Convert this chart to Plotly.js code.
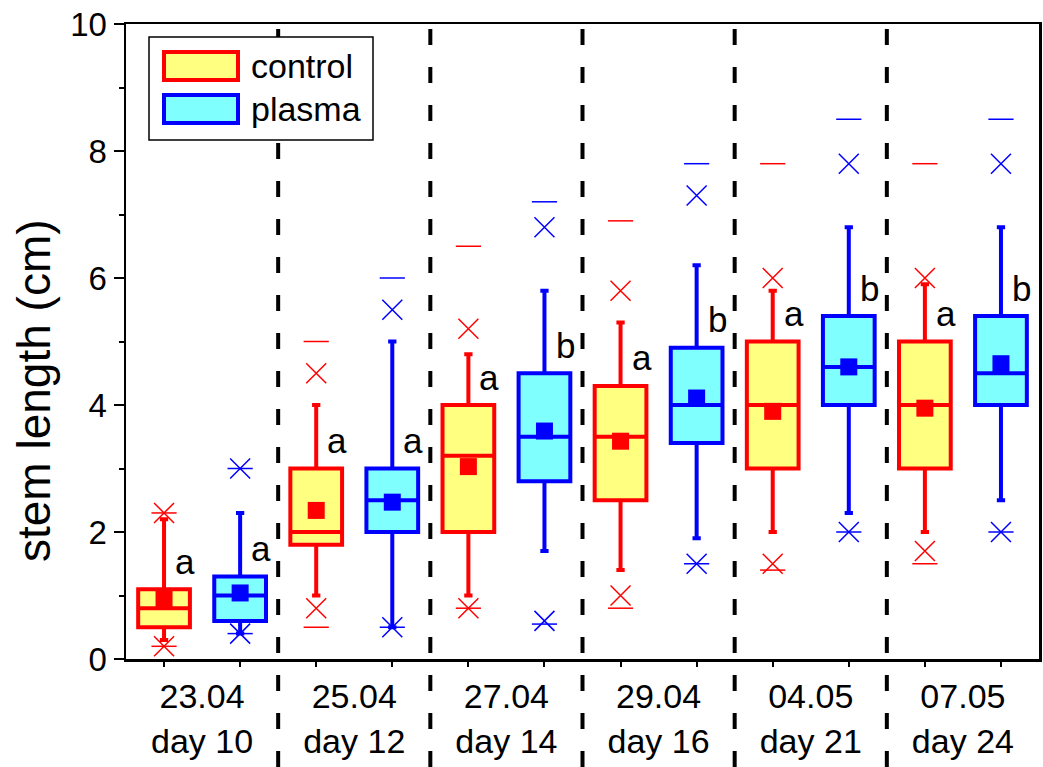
<!DOCTYPE html>
<html>
<head>
<meta charset="utf-8">
<script src="https://cdn.plot.ly/plotly-3.0.1.min.js"></script>
<style>html,body{margin:0;padding:0;background:#fff;}#chart{width:1043px;height:767px;}</style>
</head>
<body>
<div id="chart"></div>
<script>
// ---- data ----
var dates = ['23.04','25.04','27.04','29.04','04.05','07.05'];
var days = ['day 10','day 12','day 14','day 16','day 21','day 24'];

var controlQ1   = [0.5, 1.8, 2.0, 2.5, 3.0, 3.0];
var controlMed  = [0.8, 2.0, 3.2, 3.5, 4.0, 4.0];
var controlQ3   = [1.1, 3.0, 4.0, 4.3, 5.0, 5.0];
var controlLo   = [0.3, 1.0, 1.0, 1.4, 2.0, 2.0];
var controlHi   = [2.2, 4.0, 4.8, 5.3, 5.8, 5.9];
var controlMean = [0.95, 2.34, 3.03, 3.43, 3.9, 3.95];
var controlP1   = [0.2, 0.8, 0.8, 1.0, 1.5, 1.7];
var controlP99  = [2.3, 4.5, 5.2, 5.8, 6.0, 6.0];
var controlMin  = [0.2, 0.5, 0.8, 0.8, 1.4, 1.5];
var controlMax  = [2.3, 5.0, 6.5, 6.9, 7.8, 7.8];
var controlLetters = ['a','a','a','a','a','a'];

var plasmaQ1   = [0.6, 2.0, 2.8, 3.4, 4.0, 4.0];
var plasmaMed  = [1.0, 2.5, 3.5, 4.0, 4.6, 4.5];
var plasmaQ3   = [1.3, 3.0, 4.5, 4.9, 5.4, 5.4];
var plasmaLo   = [0.4, 0.5, 1.7, 1.9, 2.3, 2.5];
var plasmaHi   = [2.3, 5.0, 5.8, 6.2, 6.8, 6.8];
var plasmaMean = [1.04, 2.47, 3.59, 4.11, 4.6, 4.65];
var plasmaP1   = [0.4, 0.5, 0.6, 1.5, 2.0, 2.0];
var plasmaP99  = [3.0, 5.5, 6.8, 7.3, 7.8, 7.8];
var plasmaMin  = [0.4, 0.5, 0.55, 1.5, 2.0, 2.0];
var plasmaMax  = [3.0, 6.0, 7.2, 7.8, 8.5, 8.5];
var plasmaLetters = ['a','a','b','b','b','b'];

var seriesNames = ['control','plasma'];

// ---- styling ----
var FONT = 'Liberation Sans, Arial, sans-serif';
var RED = '#FF0000', BLUE = '#0000FF', YELLOW = '#FFFF80', CYAN = '#80FFFF';
var W = 1043, H = 767, ML = 126, MR = 4, MT = 24, MB = 108;
var PW = W - ML - MR, PH = H - MT - MB;
function px2x(px){ return (px - ML) / PW; }
function px2y(py){ return (H - MB - py) / PH; }

var nG = dates.length;
var posC = dates.map(function(d,i){ return i + 0.25; });
var posP = dates.map(function(d,i){ return i + 0.75; });

function series(pos, q1, med, q3, lo, hi, mean, p1, p99, mn, mx, line, fill){
  return [
    {type:'scatter', mode:'markers', x:pos.concat(pos), y:mn.concat(mx),
     marker:{symbol:'line-ew', size:18, color:line, line:{color:line, width:1.5}},
     showlegend:false, hoverinfo:'skip', cliponaxis:false},
    {type:'scatter', mode:'markers', x:pos.concat(pos), y:p1.concat(p99),
     marker:{symbol:'x-thin', size:20, color:line, line:{color:line, width:1.5}},
     showlegend:false, hoverinfo:'skip', cliponaxis:false},
    {type:'box', x:pos, q1:q1, median:med, q3:q3, lowerfence:lo, upperfence:hi,
     width:0.34, whiskerwidth:0.16, boxpoints:false,
     line:{color:line, width:4}, fillcolor:fill, showlegend:false, hoverinfo:'skip'},
    {type:'scatter', mode:'markers', x:pos, y:mean,
     marker:{symbol:'square', size:17, color:line}, showlegend:false, hoverinfo:'skip'}
  ];
}

var data = [].concat(
  series(posC, controlQ1, controlMed, controlQ3, controlLo, controlHi, controlMean, controlP1, controlP99, controlMin, controlMax, RED, YELLOW),
  series(posP, plasmaQ1, plasmaMed, plasmaQ3, plasmaLo, plasmaHi, plasmaMean, plasmaP1, plasmaP99, plasmaMin, plasmaMax, BLUE, CYAN)
);

var annotations = [];
function addLetters(pos, q3, letters){
  letters.forEach(function(t,i){
    annotations.push({x:pos[i], y:q3[i], xref:'x', yref:'y', text:t, showarrow:false,
      xshift:21, yshift:28, xanchor:'center', yanchor:'middle',
      font:{family:FONT, size:35, color:'#000'}});
  });
}
addLetters(posC, controlQ3, controlLetters);
addLetters(posP, plasmaQ3, plasmaLetters);

// y-axis title
annotations.push({xref:'paper', yref:'paper', x:px2x(34), y:px2y(391), text:'stem length (cm)',
  textangle:-90, showarrow:false, xanchor:'center', yanchor:'middle',
  font:{family:FONT, size:46, color:'#000'}});

var shapes = [];
// group separators
for (var g = 1; g < nG; g++){
  shapes.push({type:'line', xref:'paper', yref:'paper', x0:g/nG, x1:g/nG, y0:px2y(H), y1:px2y(MT+4),
    line:{color:'#000', width:4, dash:'16px,22px'}, layer:'above'});
}
// custom legend
shapes.push({type:'rect', xref:'paper', yref:'paper', x0:px2x(149), x1:px2x(373), y0:px2y(140), y1:px2y(37),
  line:{color:'#000', width:1.5}, fillcolor:'#fff', layer:'above'});
var legFill = [YELLOW, CYAN], legLine = [RED, BLUE], legY = [66, 109];
seriesNames.forEach(function(n,i){
  shapes.push({type:'rect', xref:'paper', yref:'paper', x0:px2x(164), x1:px2x(238),
    y0:px2y(legY[i]+14), y1:px2y(legY[i]-14),
    line:{color:legLine[i], width:4}, fillcolor:legFill[i], layer:'above'});
  annotations.push({xref:'paper', yref:'paper', x:px2x(249), y:px2y(legY[i]), text:n, showarrow:false,
    xanchor:'left', yanchor:'middle', font:{family:FONT, size:34, color:'#000'}});
});

var layout = {
  width:W, height:H,
  margin:{l:ML, r:MR, t:MT, b:MB, pad:0},
  paper_bgcolor:'#fff', plot_bgcolor:'#fff',
  showlegend:false, boxmode:'overlay',
  font:{family:FONT, color:'#000'},
  xaxis:{range:[0,nG], showgrid:false, zeroline:false, showline:true, linewidth:2.5, linecolor:'#000', mirror:true,
    tickmode:'array', tickvals:dates.map(function(d,i){return i+0.5;}),
    ticktext:dates.map(function(d,i){return d+'<br>'+days[i];}),
    ticks:'', ticklabelstandoff:6,
    minor:{tick0:0.25, dtick:0.5, ticks:'outside', ticklen:5, tickwidth:2, tickcolor:'#000'},
    tickfont:{family:FONT, size:34, color:'#000'}, fixedrange:true},
  yaxis:{range:[0,10], showgrid:false, zeroline:false, showline:true, linewidth:2.5, linecolor:'#000', mirror:true,
    tickmode:'array', tickvals:[0,2,4,6,8,10], ticks:'outside', ticklen:10, tickwidth:2, tickcolor:'#000',
    minor:{tick0:1, dtick:2, ticks:'outside', ticklen:5, tickwidth:2, tickcolor:'#000'},
    tickfont:{family:FONT, size:33, color:'#000'}, fixedrange:true},
  shapes:shapes, annotations:annotations
};

Plotly.newPlot('chart', data, layout, {staticPlot:true, displayModeBar:false});
</script>
</body>
</html>
